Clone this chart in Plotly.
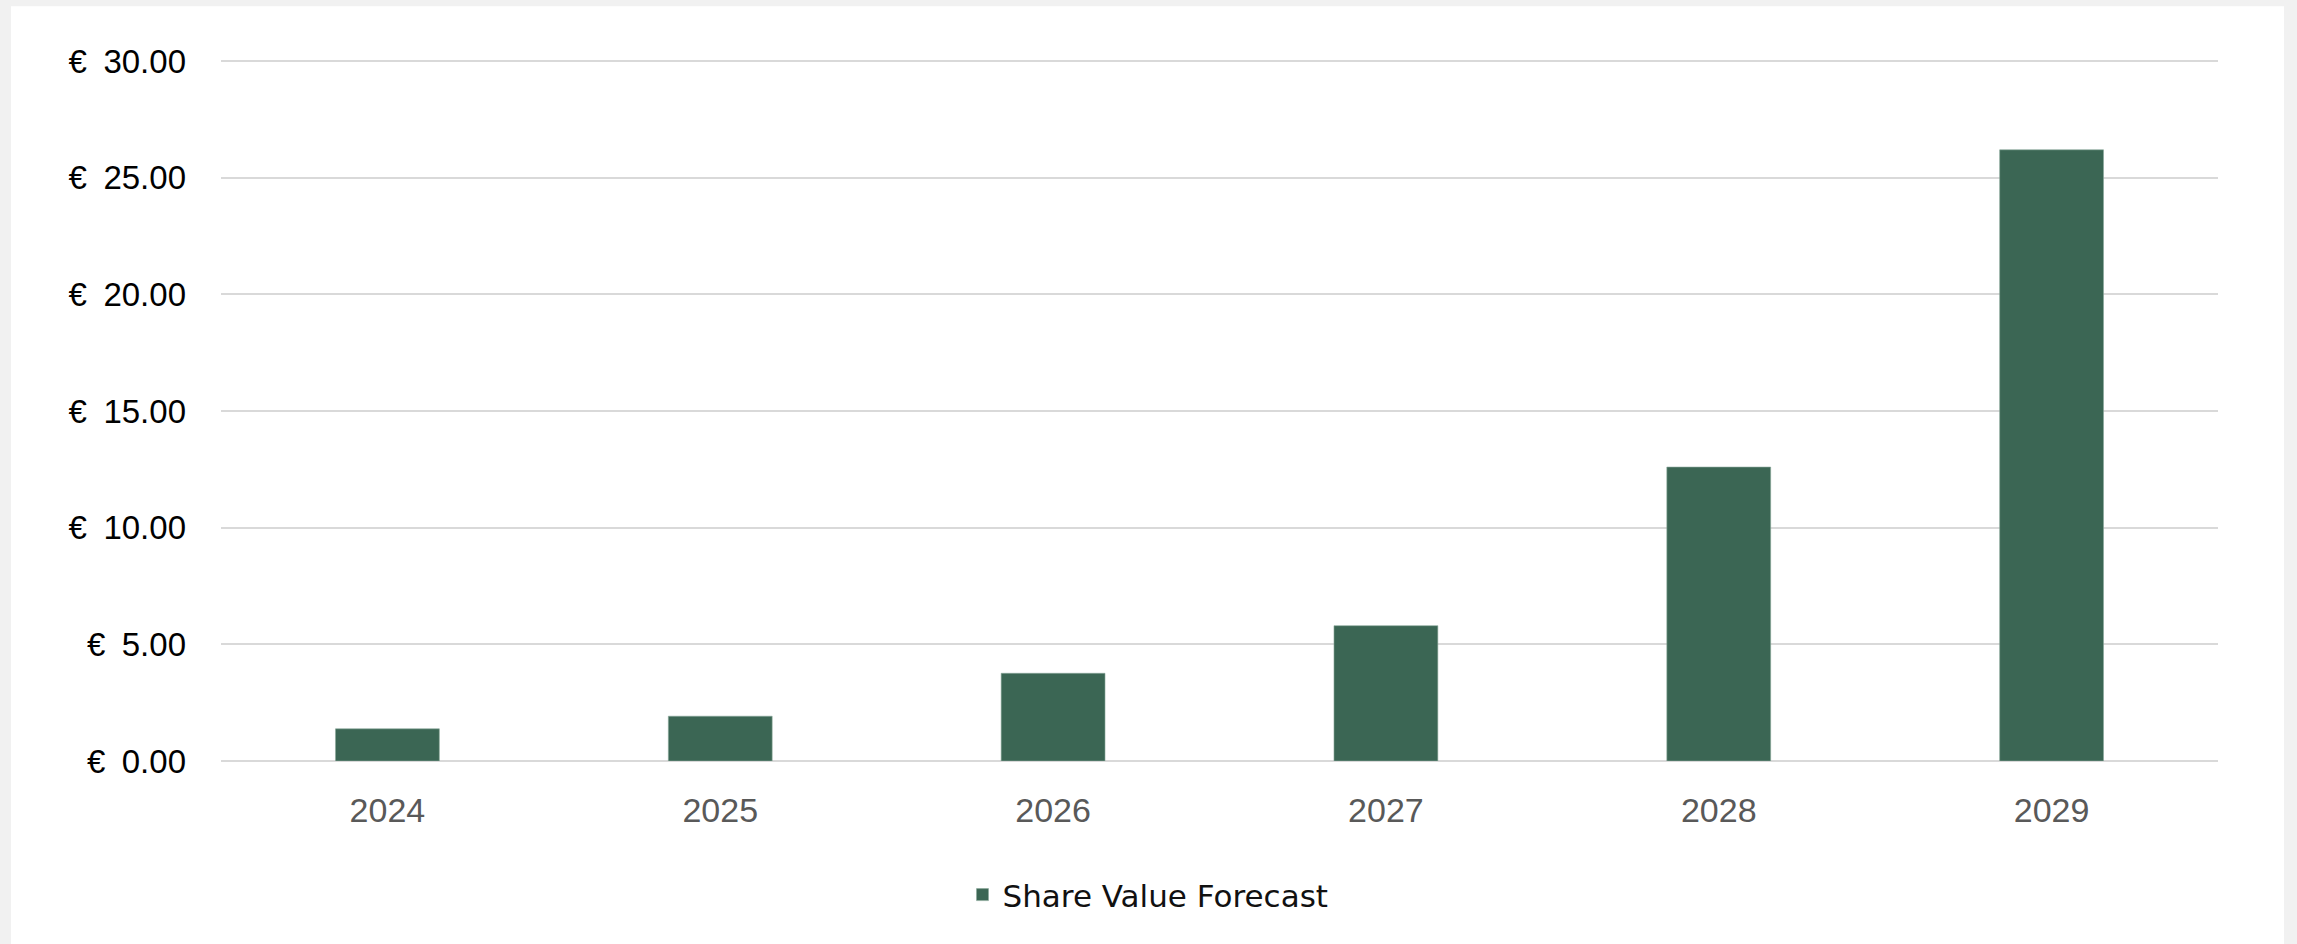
import plotly.graph_objects as go

years = ["2024", "2025", "2026", "2027", "2028", "2029"]
share_value = [1.38, 1.92, 3.76, 5.80, 12.60, 26.20]
series_name = "Share Value Forecast"
y_ticks = [0, 5, 10, 15, 20, 25, 30]
y_tick_labels = ["€\u20020.00", "€\u20025.00", "€\u200210.00", "€\u200215.00",
                 "€\u200220.00", "€\u200225.00", "€\u200230.00"]

W, H = 2297, 944
y_top = 30.05
base_px, top_px = 761, 61            # pixel rows of 0 and 30
ph = (base_px - top_px) * y_top / 30
L, R = 221, 79
B = H - base_px
T = H - B - ph
pw = W - L - R

fig = go.Figure()
fig.add_trace(go.Bar(
    x=years, y=share_value, name=series_name,
    marker=dict(color="#3B6654", line=dict(color="#8aa89b", width=0.6)),
    showlegend=True,
))

def px_x(p):
    return (p - L) / pw

def px_y(p):
    return (H - B - p) / ph

# white card on a light gray page
fig.add_shape(type="rect", xref="paper", yref="paper", layer="below",
              x0=px_x(11), x1=px_x(2284), y0=px_y(950), y1=px_y(6),
              fillcolor="white", line=dict(width=0))

fig.update_layout(
    width=W, height=H,
    margin=dict(l=L, r=R, t=T, b=B, pad=0),
    paper_bgcolor="#f1f1f1",
    plot_bgcolor="white",
    bargap=0.688,
    showlegend=True,
    legend=dict(
        orientation="h", x=px_x(1148), xanchor="center",
        y=px_y(895), yanchor="middle",
        font=dict(family="DejaVu Sans", size=31, color="#111111"),
        bgcolor="rgba(0,0,0,0)",
    ),
    xaxis=dict(
        type="category", range=[-0.5, 5.5],
        showgrid=False, showline=False, zeroline=False,
        ticks="", ticklabelstandoff=26,
        tickfont=dict(family="Liberation Sans, Arial", size=34, color="#595959"),
    ),
    yaxis=dict(
        range=[0, y_top], tickvals=y_ticks, ticktext=y_tick_labels,
        showgrid=True, gridcolor="#d9d9d9", gridwidth=2,
        zeroline=True, zerolinecolor="#d9d9d9", zerolinewidth=2,
        showline=False, ticks="", ticklabelstandoff=34,
        tickfont=dict(family="Liberation Sans, Arial", size=33, color="#000000"),
    ),
)

fig.write_html("out.html",
               config={"displayModeBar": False},
               post_script="document.body.style.margin='0';document.body.style.background='#f1f1f1';")
